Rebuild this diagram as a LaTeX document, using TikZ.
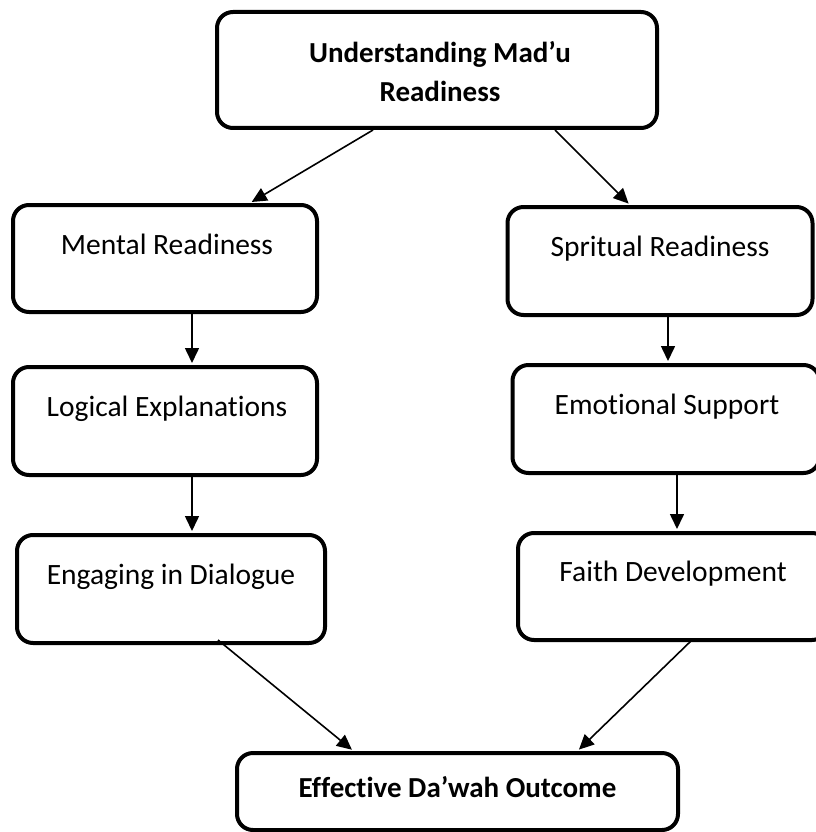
\documentclass[tikz,border=0pt]{standalone}
\usepackage{fontspec}
\setmainfont[Ligatures=NoCommon]{Carlito}
\usetikzlibrary{arrows.meta,calc}
\begin{document}
\begin{tikzpicture}[x=1pt,y=-1pt,
  box/.style={draw=black, line width=4pt, rounded corners=16pt, inner sep=0pt},
  txt/.style={inner sep=0pt, anchor=base, font=\fontsize{29.5}{35}\selectfont},
  btxt/.style={inner sep=0pt, anchor=base, font=\fontsize{29}{35}\selectfont\bfseries},
  conn/.style={line width=1.6pt, -{Triangle[length=15pt,width=14pt]}, shorten >=2pt}
]
\useasboundingbox (0,0) rectangle (815,832);
% boxes
\node[box, minimum width=440, minimum height=116] (top) at (437,70) {};
\node[box, minimum width=304, minimum height=107] (mental) at (165,258.5) {};
\node[box, minimum width=305, minimum height=108] (spirit) at (660,261) {};
\node[box, minimum width=304, minimum height=108] (logic) at (165,421) {};
\node[box, minimum width=307, minimum height=108] (emot) at (666,419) {};
\node[box, minimum width=308, minimum height=108] (engage) at (171,589) {};
\node[box, minimum width=310, minimum height=107] (faith) at (673,586.5) {};
\node[box, minimum width=441, minimum height=77] (effect) at (457.5,791.5) {};
% texts
\node[btxt] (top-a) at (440,63) {Understanding Mad’u};
\node[btxt] (top-b) at (440,102) {Readiness};
\node[txt] (mental-t) at (167,254) {Mental Readiness};
\node[txt] (spirit-t) at (660,256) {Spritual Readiness};
\node[txt] (logic-t) at (167,416) {Logical Explanations};
\node[txt] (emot-t) at (667,414) {Emotional Support};
\node[txt] (engage-t) at (171,584) {Engaging in Dialogue};
\node[txt] (faith-t) at (673,581) {Faith Development};
\node[btxt] (effect-t) at (457.5,797) {Effective Da’wah Outcome};
% connectors
\draw[conn] ([xshift=-64]top.south) -- ([xshift=85]mental.north);
\draw[conn] ([xshift=118]top.south) -- ([xshift=-30]spirit.north);
\draw[conn] ([xshift=27]mental.south) -- ([xshift=27]logic.north);
\draw[conn] ([xshift=27]logic.south) -- ([xshift=21]engage.north);
\draw[conn] ([xshift=8]spirit.south) -- ([xshift=2]emot.north);
\draw[conn] ([xshift=11]emot.south) -- ([xshift=4]faith.north);
\draw[conn] ([xshift=47,yshift=5]engage.south) -- ([xshift=-104]effect.north);
\draw[conn] ([xshift=20,yshift=3]faith.south) -- ([xshift=120]effect.north);
\end{tikzpicture}
\end{document}
